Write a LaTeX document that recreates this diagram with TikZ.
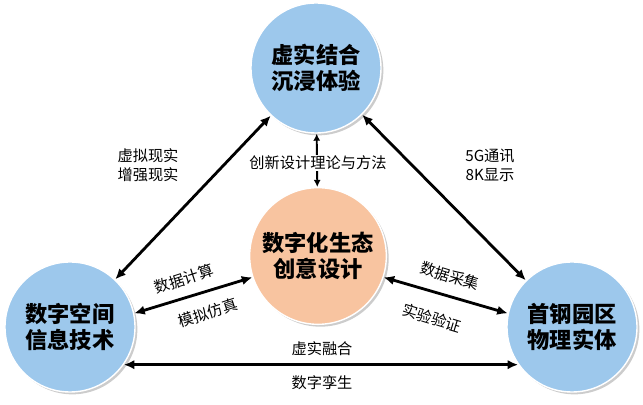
\documentclass[tikz,border=0pt]{standalone}
\usepackage{fontspec}
\setmainfont{Noto Sans CJK SC}
\usetikzlibrary{shadows,arrows.meta}
\definecolor{hubblue}{RGB}{157,200,236}
\definecolor{coreorange}{RGB}{248,196,160}
\tikzset{
  hub/.style={circle, draw=white, line width=1.2pt, fill=hubblue, minimum size=3.9cm,
    drop shadow={shadow xshift=2pt, shadow yshift=-2pt, fill=black!40}, align=center,
    font=\fontsize{19}{22}\selectfont\bfseries, inner sep=0pt},
  core/.style={hub, fill=coreorange, minimum size=4.1cm},
  link/.style={{Latex[length=9pt,width=8pt]}-{Latex[length=9pt,width=8pt]}, line width=2.4pt, black},
  tag/.style={font=\fontsize{13}{16}\selectfont, align=center, inner sep=1pt}
}
\begin{document}
\begin{tikzpicture}[x=0.03cm,y=-0.03cm]
\useasboundingbox (0,0) rectangle (643,405);
\node[hub] (vr) at (316,68) {虚实结合\\沉浸体验};
\node[hub] (dt) at (70,327) {数字空间\\信息技术};
\node[hub] (sg) at (572,327) {首钢园区\\物理实体};
\node[core] (eco) at (318,256) {数字化生态\\创意设计};
% connectors
\draw[link] (dt) -- (vr);
\draw[link] (vr) -- (sg);
\draw[link] (dt.-35) -- (sg.215);
\draw[link] (dt.12) -- (eco.198);
\draw[link] (eco.-18) -- (sg.168);
\draw[link, line width=1.6pt, {Latex[length=6pt,width=6pt]}-{Latex[length=6pt,width=6pt]}] (vr) -- (eco);
% labels
\node[tag, fill=white] at (318,163) {创新设计理论与方法};
\node[tag] at (148,165) {虚拟现实\\增强现实};
\node[tag] at (490,165) {5G通讯\\8K显示};
\node[tag] at (322,349) {虚实融合};
\node[tag] at (322,383) {数字孪生};
\node[tag, rotate=18] at (184,279) {数据计算};
\node[tag, rotate=18] at (208,313) {模拟仿真};
\node[tag, rotate=-17] at (450,276) {数据采集};
\node[tag, rotate=-17] at (432,318) {实验验证};
\end{tikzpicture}
\end{document}
